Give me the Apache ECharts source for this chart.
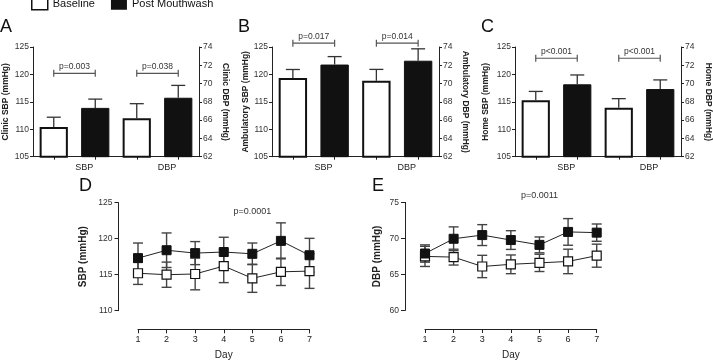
<!DOCTYPE html>
<html>
<head>
<meta charset="utf-8">
<script src="https://cdn.jsdelivr.net/npm/echarts@6/dist/echarts.min.js"></script>
<style>
  html, body { margin: 0; padding: 0; background: #fff; }
  #chart { width: 713px; height: 363px; }
</style>
</head>
<body>
<div id="chart"></div>
<script>
// bar panels: four slots, baseline / post for SBP then DBP
const barSlots = ['SBP Baseline', 'SBP Post Mouthwash', 'DBP Baseline', 'DBP Post Mouthwash'];

const clinicSbp = [110.4, 113.9];
const clinicSbpErr = [1.8, 1.6];
const clinicDbp = [66.2, 68.45];
const clinicDbpErr = [1.6, 1.35];
const clinicP = ['p=0.003', 'p=0.038'];
const clinicBracket = 120.2;

const ambSbp = [119.35, 121.8];
const ambSbpErr = [1.55, 1.45];
const ambDbp = [70.3, 72.5];
const ambDbpErr = [1.25, 1.3];
const ambP = ['p=0.017', 'p=0.014'];
const ambBracket = 125.7;

const homeSbp = [115.3, 118.2];
const homeSbpErr = [1.6, 1.7];
const homeDbp = [67.35, 69.4];
const homeDbpErr = [1.0, 1.0];
const homeP = ['p<0.001', 'p<0.001'];
const homeBracket = 122.95;

// daily panels
const days = [1, 2, 3, 4, 5, 6, 7];
const dailySbpBase = [115.2, 115.0, 115.1, 116.2, 114.5, 115.4, 115.5];
const dailySbpBaseErr = [1.55, 1.75, 2.2, 2.3, 1.95, 1.9, 2.4];
const dailySbpPost = [117.3, 118.4, 118.0, 118.15, 117.9, 119.7, 117.7];
const dailySbpPostErr = [2.1, 2.4, 1.6, 2.05, 1.5, 2.5, 2.35];
const dailyDbpBase = [67.5, 67.4, 66.1, 66.4, 66.6, 66.8, 67.6];
const dailyDbpBaseErr = [1.4, 1.1, 1.55, 1.3, 1.2, 1.7, 1.6];
const dailyDbpPost = [67.9, 69.95, 70.46, 69.77, 69.1, 70.9, 70.8];
const dailyDbpPostErr = [1.2, 1.65, 1.45, 1.3, 1.1, 1.85, 1.2];
const dailySbpP = 'p=0.0001';
const dailyDbpP = 'p=0.0011';

const FONT = 'Liberation Sans, Arial, sans-serif';
const INK = '#222';

const panels = [
    {letter: 'A', sbp: clinicSbp, sbpErr: clinicSbpErr, dbp: clinicDbp, dbpErr: clinicDbpErr, p: clinicP, level: clinicBracket,
     left: 'Clinic SBP (mmHg)', right: 'Clinic DBP (mmHg)', grid: {left: 33, width: 166}, letterX: 0, gapL: 23, gapR: 22},
    {letter: 'B', sbp: ambSbp, sbpErr: ambSbpErr, dbp: ambDbp, dbpErr: ambDbpErr, p: ambP, level: ambBracket,
     left: 'Ambulatory SBP (mmHg)', right: 'Ambulatory DBP (mmHg)', grid: {left: 272, width: 167}, letterX: 238, gapL: 22, gapR: 22},
    {letter: 'C', sbp: homeSbp, sbpErr: homeSbpErr, dbp: homeDbp, dbpErr: homeDbpErr, p: homeP, level: homeBracket,
     left: 'Home SBP (mmHg)', right: 'Home DBP (mmHg)', grid: {left: 515, width: 166}, letterX: 481, gapL: 25, gapR: 23}
];

function lineStyle(w) {
    return {color: INK, width: w || 1};
}

function upErr(params, api) {
    const x = api.value(0), v = api.value(1), e = api.value(2);
    const a = api.coord([x, v]);
    const b = api.coord([x, v + e]);
    const st = {stroke: '#333', lineWidth: 1.3};
    return {type: 'group', children: [
        {type: 'line', shape: {x1: a[0], y1: a[1], x2: b[0], y2: b[1]}, style: st},
        {type: 'line', shape: {x1: b[0] - 7, y1: b[1], x2: b[0] + 7, y2: b[1]}, style: st}
    ]};
}

function bothErr(params, api) {
    const x = api.value(0), v = api.value(1), e = api.value(2);
    const a = api.coord([x, v - e]);
    const b = api.coord([x, v + e]);
    const st = {stroke: '#444', lineWidth: 1.4};
    return {type: 'group', children: [
        {type: 'line', shape: {x1: a[0], y1: a[1], x2: b[0], y2: b[1]}, style: st},
        {type: 'line', shape: {x1: a[0] - 5, y1: a[1], x2: a[0] + 5, y2: a[1]}, style: st},
        {type: 'line', shape: {x1: b[0] - 5, y1: b[1], x2: b[0] + 5, y2: b[1]}, style: st}
    ]};
}

function bracketRender(texts) {
    return function (params, api) {
        const a = api.coord([api.value(0), api.value(2)]);
        const b = api.coord([api.value(1), api.value(2)]);
        const st = {stroke: '#555', lineWidth: 1.2};
        return {type: 'group', children: [
            {type: 'line', shape: {x1: a[0], y1: a[1], x2: b[0], y2: b[1]}, style: st},
            {type: 'line', shape: {x1: a[0], y1: a[1] - 3.5, x2: a[0], y2: a[1] + 3.5}, style: st},
            {type: 'line', shape: {x1: b[0], y1: b[1] - 3.5, x2: b[0], y2: b[1] + 3.5}, style: st},
            {type: 'text', x: (a[0] + b[0]) / 2, y: a[1] - 7, style: {
                text: texts[params.dataIndex], fontSize: 8.5, fontFamily: FONT, fill: '#333',
                align: 'center', verticalAlign: 'middle'}}
        ]};
    };
}

function textRender(text) {
    return function (params, api) {
        const p = api.coord([api.value(0), api.value(1)]);
        return {type: 'text', x: p[0], y: p[1], style: {
            text: text, fontSize: 9, fontFamily: FONT, fill: '#333', align: 'center', verticalAlign: 'middle'}};
    };
}

const grids = [], xAxes = [], yAxes = [], series = [], titles = [];

panels.forEach((pn, i) => {
    grids.push({left: pn.grid.left, width: pn.grid.width, top: 47, height: 109.7, containLabel: false, outerBoundsMode: 'none'});
    titles.push({text: pn.letter, left: pn.letterX, top: 18, padding: 0,
        textStyle: {fontSize: 18, fontWeight: 'normal', color: '#111', fontFamily: FONT}});
    xAxes.push({
        type: 'category', gridIndex: i, data: barSlots,
        axisLine: {show: true, lineStyle: lineStyle(1)},
        axisTick: {show: true, alignWithLabel: true, length: 3, lineStyle: lineStyle(1)},
        axisLabel: {interval: 0, align: 'right', padding: [0, 2, 0, 0], margin: 6, fontSize: 9, color: INK, fontFamily: FONT,
            formatter: (v, idx) => (idx % 2 ? v.split(' ')[0] : '')},
        splitLine: {show: false}
    });
    const yCommon = {
        type: 'value', gridIndex: i, nameLocation: 'middle',
        nameTextStyle: {fontSize: 8.5, fontWeight: 'bold', color: INK, fontFamily: FONT},
        axisLine: {show: true, lineStyle: lineStyle(1)},
        axisTick: {show: true, length: 3, lineStyle: lineStyle(1)},
        axisLabel: {fontSize: 8.5, color: '#333', margin: 4, fontFamily: FONT},
        splitLine: {show: false}
    };
    yAxes.push(Object.assign({}, yCommon, {position: 'left', min: 105, max: 125, interval: 5, name: pn.left, nameGap: pn.gapL}));
    yAxes.push(Object.assign({}, yCommon, {position: 'right', min: 62, max: 74, interval: 2, name: pn.right, nameGap: pn.gapR, nameRotate: -90}));

    const white = {color: '#fff', borderColor: '#111', borderWidth: 2};
    const black = {color: '#111', borderColor: '#111', borderWidth: 1};
    const barBase = {type: 'bar', xAxisIndex: i, barWidth: '68%', barGap: '-100%', animation: false};
    series.push(Object.assign({}, barBase, {name: 'Baseline', yAxisIndex: 2 * i, data: [pn.sbp[0], '-', '-', '-'], itemStyle: white}));
    series.push(Object.assign({}, barBase, {name: 'Post Mouthwash', yAxisIndex: 2 * i, data: ['-', pn.sbp[1], '-', '-'], itemStyle: black}));
    series.push(Object.assign({}, barBase, {name: 'Baseline', yAxisIndex: 2 * i + 1, data: ['-', '-', pn.dbp[0], '-'], itemStyle: white}));
    series.push(Object.assign({}, barBase, {name: 'Post Mouthwash', yAxisIndex: 2 * i + 1, data: ['-', '-', '-', pn.dbp[1]], itemStyle: black}));

    series.push({type: 'custom', name: 'SEM', xAxisIndex: i, yAxisIndex: 2 * i, z: 3, renderItem: upErr,
        data: [[0, pn.sbp[0], pn.sbpErr[0]], [1, pn.sbp[1], pn.sbpErr[1]]]});
    series.push({type: 'custom', name: 'SEM', xAxisIndex: i, yAxisIndex: 2 * i + 1, z: 3, renderItem: upErr,
        data: [[2, pn.dbp[0], pn.dbpErr[0]], [3, pn.dbp[1], pn.dbpErr[1]]]});
    series.push({type: 'custom', name: 'p', xAxisIndex: i, yAxisIndex: 2 * i, z: 3, clip: false,
        renderItem: bracketRender(pn.p), encode: {x: [0, 1], y: 2},
        data: [[0, 1, pn.level], [2, 3, pn.level]]});
});

// daily panels D and E
const daily = [
    {letter: 'D', base: dailySbpBase, baseErr: dailySbpBaseErr, post: dailySbpPost, postErr: dailySbpPostErr,
     min: 110, max: 125, name: 'SBP (mmHg)', p: dailySbpP, pPos: [5, 123.8], grid: {left: 138, width: 171.5, top: 202.7}, letterX: 79, gap: 30, yOff: 19.5},
    {letter: 'E', base: dailyDbpBase, baseErr: dailyDbpBaseErr, post: dailyDbpPost, postErr: dailyDbpPostErr,
     min: 60, max: 75, name: 'DBP (mmHg)', p: dailyDbpP, pPos: [5, 76], grid: {left: 425, width: 171.7, top: 202.4}, letterX: 372, gap: 23, yOff: 20}
];

daily.forEach((d, k) => {
    const g = 3 + k;
    const yi = 6 + k;
    grids.push({left: d.grid.left, width: d.grid.width, top: d.grid.top, height: 108, containLabel: false, outerBoundsMode: 'none'});
    titles.push({text: d.letter, left: d.letterX, top: 177, padding: 0,
        textStyle: {fontSize: 18, fontWeight: 'normal', color: '#111', fontFamily: FONT}});
    xAxes.push({
        type: 'value', gridIndex: g, min: 1, max: 7, interval: 1, offset: 18.6,
        name: 'Day', nameLocation: 'middle', nameGap: 21,
        nameTextStyle: {fontSize: 10, color: INK, fontFamily: FONT},
        axisLine: {show: true, lineStyle: lineStyle(1)},
        axisTick: {show: true, length: 4, lineStyle: lineStyle(1)},
        axisLabel: {fontSize: 9, color: INK, margin: 6, fontFamily: FONT},
        splitLine: {show: false}
    });
    yAxes.push({
        type: 'value', gridIndex: g, min: d.min, max: d.max, interval: 5, offset: d.yOff,
        name: d.name, nameLocation: 'middle', nameGap: d.gap,
        nameTextStyle: {fontSize: 10, fontWeight: 'bold', color: INK, fontFamily: FONT},
        axisLine: {show: true, lineStyle: lineStyle(1)},
        axisTick: {show: true, length: 4, lineStyle: lineStyle(1)},
        axisLabel: {fontSize: 8.5, color: '#333', margin: 6, fontFamily: FONT},
        splitLine: {show: false}
    });
    series.push({type: 'custom', name: 'SEM', xAxisIndex: g, yAxisIndex: yi, z: 2, renderItem: bothErr,
        data: days.map((x, i) => [x, d.base[i], d.baseErr[i]])});
    series.push({type: 'custom', name: 'SEM', xAxisIndex: g, yAxisIndex: yi, z: 2, renderItem: bothErr,
        data: days.map((x, i) => [x, d.post[i], d.postErr[i]])});
    series.push({type: 'line', name: 'Baseline', xAxisIndex: g, yAxisIndex: yi, z: 4,
        data: days.map((x, i) => [x, d.base[i]]), symbol: 'rect', symbolSize: 9,
        itemStyle: {color: '#fff', borderColor: '#111', borderWidth: 1.2},
        lineStyle: {color: '#222', width: 1}});
    series.push({type: 'line', name: 'Post Mouthwash', xAxisIndex: g, yAxisIndex: yi, z: 5,
        data: days.map((x, i) => [x, d.post[i]]), symbol: 'rect', symbolSize: 9,
        itemStyle: {color: '#111', borderColor: '#111', borderWidth: 1},
        lineStyle: {color: '#222', width: 1}});
    series.push({type: 'custom', name: 'p', xAxisIndex: g, yAxisIndex: yi, z: 5, clip: false,
        renderItem: textRender(d.p), data: [d.pPos]});
});

const chart = echarts.init(document.getElementById('chart'), null, {renderer: 'canvas'});
chart.setOption({
    animation: false,
    backgroundColor: '#fff',
    textStyle: {fontFamily: FONT},
    title: titles,
    legend: {
        left: 31, top: -2, padding: 0, itemWidth: 16, itemHeight: 11, itemGap: 16,
        textStyle: {fontSize: 11, color: '#111', fontFamily: FONT},
        selectedMode: false,
        data: [
            {name: 'Baseline', icon: 'rect', itemStyle: {color: '#fff', borderColor: '#111', borderWidth: 1.5}},
            {name: 'Post Mouthwash', icon: 'rect', itemStyle: {color: '#111', borderWidth: 0}}
        ]
    },
    grid: grids,
    xAxis: xAxes,
    yAxis: yAxes,
    series: series
});
</script>
</body>
</html>
